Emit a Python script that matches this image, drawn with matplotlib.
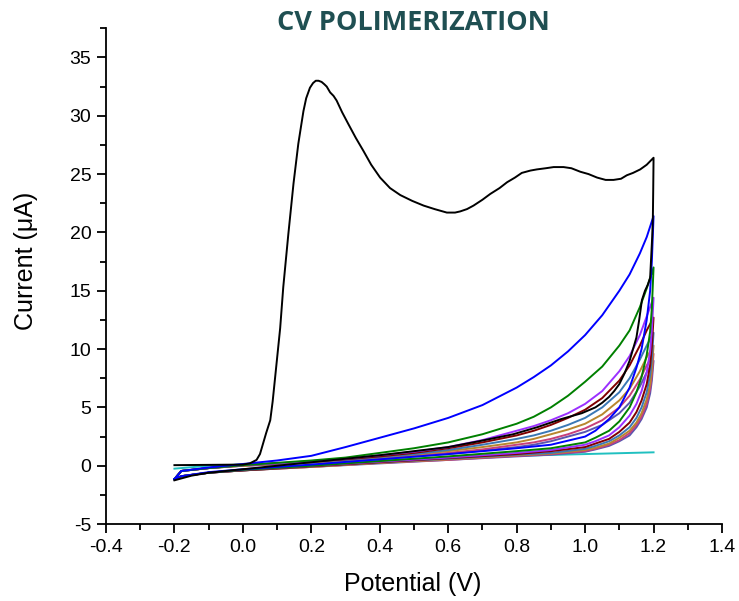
"""CV polymerization cycles - recreated plot."""
import matplotlib
matplotlib.use('Agg')
import matplotlib.pyplot as plt
from matplotlib.ticker import MultipleLocator

# first cycle (black) - forward and reverse scans
black_fwd_v = [-0.2, 0.0, 0.02, 0.04, 0.05, 0.059, 0.068, 0.08, 0.087, 0.094, 0.109, 0.118, 0.133,
               0.148, 0.162, 0.17, 0.177, 0.185, 0.196, 0.205, 0.213, 0.221, 0.23, 0.238,
               0.245, 0.255, 0.265, 0.274, 0.29, 0.308, 0.33, 0.352, 0.375, 0.401, 0.43,
               0.46, 0.495, 0.528, 0.56, 0.596, 0.62, 0.635, 0.655, 0.674, 0.7, 0.723,
               0.75, 0.772, 0.795, 0.815, 0.84, 0.859, 0.885, 0.908, 0.937, 0.96, 0.986,
               1.01, 1.035, 1.06, 1.083, 1.105, 1.122, 1.14, 1.161, 1.18, 1.2]
black_fwd_i = [0.05, 0.1, 0.2, 0.5, 1.0, 1.9, 2.8, 3.9, 5.5, 7.5, 11.8, 15.3, 19.9,
               24.2, 27.6, 29.1, 30.4, 31.5, 32.4, 32.8, 33.0, 33.0, 32.9, 32.7,
               32.5, 32.0, 31.7, 31.3, 30.3, 29.3, 28.1, 27.0, 25.8, 24.7, 23.8,
               23.2, 22.7, 22.3, 22.0, 21.7, 21.7, 21.8, 22.0, 22.3, 22.8, 23.3,
               23.8, 24.3, 24.7, 25.1, 25.3, 25.4, 25.5, 25.6, 25.6, 25.5, 25.2,
               25.0, 24.7, 24.5, 24.5, 24.6, 24.9, 25.1, 25.4, 25.8, 26.4]
black_rev_v = [1.2, 1.199, 1.198, 1.196, 1.19, 1.183, 1.175, 1.166, 1.158, 1.15, 1.14, 1.13,
               1.115, 1.10, 1.085, 1.07, 1.05, 1.03, 0.99, 0.93, 0.86, 0.79, 0.69, 0.6, 0.5,
               0.4, 0.3, 0.2, 0.1, 0.0, -0.1, -0.15, -0.2]
black_rev_i = [26.4, 23.6, 21.3, 19.6, 16.1, 15.5, 15.0, 14.2, 12.5, 11.0, 10.0, 9.0,
               7.9, 7.0, 6.4, 5.9, 5.4, 5.0, 4.5, 4.0, 3.3, 2.7, 2.1, 1.6, 1.25,
               0.9, 0.6, 0.3, 0.0, -0.3, -0.6, -0.85, -1.25]

# later cycles share the same potential grid
fwd_v = [-0.2, -0.18, -0.1, 0.0, 0.1, 0.2, 0.3, 0.4, 0.5, 0.6, 0.7, 0.8, 0.85, 0.9, 0.95,
         1.0, 1.05, 1.1, 1.13, 1.16, 1.18, 1.2]
rev_v = [1.2, 1.195, 1.19, 1.18, 1.165, 1.15, 1.13, 1.1, 1.07, 1.03, 1.0, 0.9, 0.8, 0.6,
         0.4, 0.2, 0.0, -0.1, -0.18, -0.2]

cycle_colors = ['#0000ff', '#008000', '#9b30ff', '#800000', '#3a78b5', '#b8862e',
                '#c8407a', '#5a55b0']
cycle_fwd_i = [
    [-1.15, -0.45, -0.15, 0.15, 0.45, 0.85, 1.6, 2.4, 3.2, 4.1, 5.2, 6.7, 7.6, 8.6, 9.8,
     11.2, 12.9, 15.0, 16.4, 18.2, 19.6, 21.4],
    [-1.15, -0.45, -0.2, 0.05, 0.25, 0.45, 0.7, 1.1, 1.5, 2.0, 2.7, 3.6, 4.2, 5.0, 6.0,
     7.2, 8.5, 10.3, 11.6, 13.6, 15.2, 17.0],
    [-1.15, -0.45, -0.2, 0.05, 0.2, 0.4, 0.6, 0.9, 1.2, 1.6, 2.2, 3.0, 3.4, 3.9, 4.5,
     5.3, 6.4, 8.1, 9.4, 11.2, 12.8, 14.4],
    [-1.15, -0.45, -0.2, 0.05, 0.2, 0.35, 0.55, 0.8, 1.1, 1.5, 2.0, 2.6, 3.0, 3.5, 4.1,
     4.8, 5.8, 7.3, 8.6, 10.3, 11.6, 12.7],
    [-1.15, -0.45, -0.2, 0.05, 0.2, 0.35, 0.5, 0.75, 1.0, 1.35, 1.8, 2.3, 2.6, 3.0, 3.5,
     4.1, 5.0, 6.3, 7.5, 9.1, 10.3, 11.4],
    [-1.15, -0.45, -0.2, 0.0, 0.15, 0.3, 0.45, 0.7, 0.95, 1.25, 1.6, 2.0, 2.3, 2.7, 3.1,
     3.6, 4.4, 5.6, 6.6, 8.1, 9.3, 10.3],
    [-1.15, -0.45, -0.2, 0.0, 0.15, 0.3, 0.45, 0.65, 0.85, 1.1, 1.4, 1.8, 2.0, 2.3, 2.7,
     3.2, 3.9, 5.0, 6.0, 7.4, 8.6, 9.6],
    [-1.15, -0.45, -0.2, 0.0, 0.1, 0.25, 0.4, 0.6, 0.8, 1.0, 1.3, 1.6, 1.8, 2.1, 2.5,
     2.9, 3.5, 4.5, 5.4, 6.8, 8.0, 9.0],
]
cycle_rev_i = [
    [21.4, 17.5, 15.0, 12.5, 10.0, 8.4, 6.7, 5.0, 4.0, 3.0, 2.5, 1.8, 1.5, 1.0, 0.55, 0.1, -0.3, -0.55, -0.9, -1.15],
    [17.0, 13.5, 11.5, 9.5, 7.6, 6.3, 5.0, 3.8, 3.0, 2.4, 2.0, 1.5, 1.25, 0.8, 0.4, 0.0, -0.35, -0.6, -0.9, -1.15],
    [14.4, 11.6, 9.8, 8.0, 6.4, 5.3, 4.3, 3.3, 2.6, 2.1, 1.8, 1.35, 1.1, 0.7, 0.35, 0.0, -0.35, -0.6, -0.9, -1.15],
    [12.7, 10.2, 8.6, 7.0, 5.6, 4.6, 3.7, 2.9, 2.3, 1.9, 1.6, 1.25, 1.0, 0.65, 0.3, -0.05, -0.4, -0.6, -0.9, -1.15],
    [11.4, 9.2, 7.8, 6.3, 5.0, 4.1, 3.3, 2.6, 2.1, 1.7, 1.45, 1.1, 0.95, 0.6, 0.3, -0.05, -0.4, -0.6, -0.9, -1.15],
    [10.3, 8.3, 7.0, 5.7, 4.5, 3.7, 3.0, 2.4, 1.9, 1.55, 1.35, 1.05, 0.9, 0.55, 0.25, -0.1, -0.4, -0.6, -0.9, -1.15],
    [9.6, 7.8, 6.6, 5.3, 4.2, 3.5, 2.8, 2.2, 1.8, 1.45, 1.25, 1.0, 0.85, 0.5, 0.25, -0.1, -0.4, -0.6, -0.9, -1.15],
    [9.0, 7.3, 6.2, 5.0, 4.0, 3.3, 2.6, 2.1, 1.7, 1.4, 1.2, 0.95, 0.8, 0.5, 0.2, -0.1, -0.4, -0.6, -0.9, -1.15],
]

# blank scan (cyan), almost flat
blank_v = [-0.2, -0.1, 0.0, 0.2, 0.4, 0.6, 0.8, 1.0, 1.2]
blank_i = [-0.25, 0.0, 0.1, 0.3, 0.5, 0.65, 0.85, 1.0, 1.15]

plt.rcParams['font.family'] = ['Liberation Sans', 'DejaVu Sans']
plt.rcParams['axes.unicode_minus'] = False

fig = plt.figure(figsize=(7.39, 6.01), dpi=100)
ax = fig.add_axes([0.1434, 0.128, 0.8336, 0.825])

lw = 1.4
ax.plot(blank_v, blank_i, color='#20c0c0', lw=lw)
for c, fi, ri in reversed(list(zip(cycle_colors, cycle_fwd_i, cycle_rev_i))):
    ax.plot(fwd_v + rev_v, fi + ri, color=c, lw=lw)
ax.plot(black_fwd_v + black_rev_v, black_fwd_i + black_rev_i, color='black', lw=lw)

ax.set_xlim(-0.4, 1.4)
ax.set_ylim(-5, 37.5)
ax.xaxis.set_major_locator(MultipleLocator(0.2))
ax.xaxis.set_minor_locator(MultipleLocator(0.1))
ax.yaxis.set_major_locator(MultipleLocator(5))
ax.yaxis.set_minor_locator(MultipleLocator(2.5))
ax.xaxis.set_major_formatter(lambda t, pos: '%.1f' % t)

for s in ['top', 'right']:
    ax.spines[s].set_visible(False)
for s in ['left', 'bottom']:
    ax.spines[s].set_linewidth(1.3)
ax.tick_params(which='major', direction='out', length=6.5, width=1.3, labelsize=14, pad=4)
ax.tick_params(which='minor', direction='out', length=4.5, width=1.3)

ax.set_xlabel('Potential (V)', fontsize=18)
ax.set_ylabel('Current (\u03bcA)', fontsize=18)
ax.xaxis.set_label_coords(0.498, -0.097)
ax.yaxis.set_label_coords(-0.111, 0.53)
fig.text(0.559, 0.962, 'CV POLIMERIZATION', ha='center', va='center', fontsize=19.5,
         fontweight='bold', color='#1f4f52', family=['Open Sans', 'DejaVu Sans'])

fig.savefig('out.png', dpi=100)
